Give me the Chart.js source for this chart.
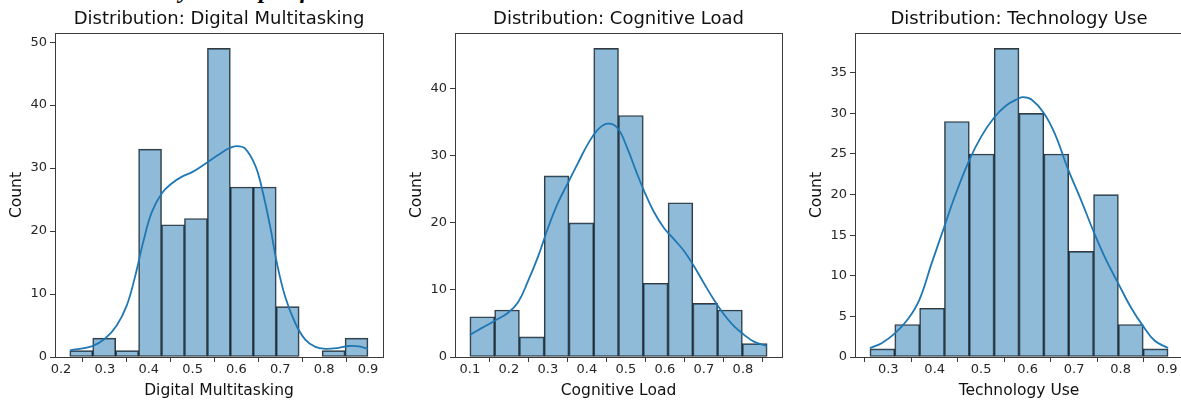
<!DOCTYPE html>
<html>
<head>
<meta charset="utf-8">
<title>Distributions</title>
<script src="https://cdn.jsdelivr.net/npm/chart.js@4.4.1/dist/chart.umd.min.js"></script>
<style>
    html, body { margin: 0; padding: 0; background: #fff; }
    body { position: relative; width: 1181px; height: 400px; overflow: hidden; }
    #heading {
        position: absolute; left: 0; top: -22px;
        font: bold italic 24px "Liberation Serif", serif;
        line-height: 24px; white-space: nowrap; color: #000;
    }
    canvas { position: absolute; top: 0; }
</style>
</head>
<body>
<div id="heading">4.1 Data Normality &amp; Shape of the Variables</div>
<canvas id="chart-dm" width="393" height="400" style="left:0px"></canvas>
<canvas id="chart-cl" width="392" height="400" style="left:400px"></canvas>
<canvas id="chart-tu" width="393" height="400" style="left:800px"></canvas>
<script>
/* Three histograms with KDE overlay */
(function () {
    'use strict';

    // Digital Multitasking
    var DM_RANGE   = [0.22, 0.90];
    var DM_COUNTS  = [1, 3, 1, 33, 21, 22, 49, 27, 27, 8, 0, 1, 3];
    var DM_KDE_X   = [0.2205, 0.27, 0.30, 0.327, 0.35, 0.369, 0.388, 0.407, 0.43, 0.453, 0.475, 0.50, 0.529, 0.559, 0.582,
                      0.60, 0.62, 0.643, 0.658, 0.677, 0.692, 0.711, 0.734, 0.757, 0.78, 0.803, 0.833, 0.856, 0.879, 0.90];
    var DM_KDE_Y   = [1.06, 1.7, 2.9, 5.0, 8.2, 12.8, 18.4, 23.0, 26.0, 27.6, 28.6, 29.4, 30.7, 32.1, 33.1,
                      33.5, 33.1, 30.4, 26.8, 20.7, 15.0, 9.6, 5.4, 2.75, 1.6, 1.3, 1.45, 1.75, 1.7, 1.3];
    var DM_X_TICKS = [0.2, 0.3, 0.4, 0.5, 0.6, 0.7, 0.8, 0.9];
    var DM_Y_TICKS = [0, 10, 20, 30, 40, 50];

    // Cognitive Load
    var CL_RANGE   = [0.10, 0.862];
    var CL_COUNTS  = [6, 7, 3, 27, 20, 46, 36, 11, 23, 8, 7, 2];
    var CL_KDE_X   = [0.10, 0.13, 0.164, 0.198, 0.224, 0.249, 0.275, 0.30, 0.326, 0.351, 0.377, 0.402, 0.428, 0.453, 0.479,
                      0.505, 0.526, 0.547, 0.573, 0.598, 0.624, 0.649, 0.675, 0.70, 0.726, 0.752, 0.777, 0.803, 0.828, 0.862];
    var CL_KDE_Y   = [3.3, 4.3, 5.4, 6.6, 8.2, 11.3, 15.0, 19.2, 23.0, 25.9, 28.9, 31.7, 33.9, 34.8, 34.1,
                      30.9, 27.7, 24.7, 21.5, 19.2, 17.5, 15.8, 13.5, 11.0, 8.5, 6.3, 4.6, 3.3, 2.3, 1.6];
    var CL_X_TICKS = [0.1, 0.2, 0.3, 0.4, 0.5, 0.6, 0.7, 0.8];
    var CL_Y_TICKS = [0, 10, 20, 30, 40];

    // Technology Use
    var TU_RANGE   = [0.2606, 0.9022];
    var TU_COUNTS  = [1, 4, 6, 29, 25, 38, 30, 25, 13, 20, 4, 1];
    var TU_KDE_X   = [0.2606, 0.2857, 0.3143, 0.343, 0.3667, 0.3932, 0.4204, 0.4434, 0.4749, 0.5007, 0.528, 0.5545, 0.5796,
                      0.5903, 0.6082, 0.634, 0.6584, 0.6871, 0.7158, 0.7401, 0.766, 0.7946, 0.8233, 0.8484, 0.8735, 0.9022];
    var TU_KDE_Y   = [1.1, 1.7, 2.9, 4.7, 7.0, 11.5, 16.0, 19.8, 24.3, 27.2, 29.5, 31.0, 31.8,
                      32.0, 31.7, 30.1, 27.5, 23.1, 19.2, 15.7, 12.3, 9.1, 6.0, 3.8, 2.0, 1.1];
    var TU_X_TICKS = [0.3, 0.4, 0.5, 0.6, 0.7, 0.8, 0.9];
    var TU_Y_TICKS = [0, 5, 10, 15, 20, 25, 30, 35];

    var FONT = "'DejaVu Sans', sans-serif";
    var TEXT = '#262626';
    var AXIS = '#3a3a3a';
    var FACE = 'rgba(31, 119, 180, 0.5)';
    var EDGE = 'rgba(0, 0, 0, 0.78)';
    var LINE = '#1f77b4';

    // matplotlib style box around the plot area
    var framePlugin = {
        id: 'frame',
        afterDatasetsDraw: function (chart) {
            var a = chart.chartArea, ctx = chart.ctx;
            ctx.save();
            ctx.strokeStyle = AXIS;
            ctx.lineWidth = 1;
            ctx.strokeRect(Math.round(a.left) + 0.5, Math.round(a.top) + 0.5,
                Math.round(a.right - a.left), Math.round(a.bottom - a.top));
            ctx.restore();
        }
    };

    function fixedTicks(list) {
        return function (scale) {
            scale.ticks = list.map(function (v) { return { value: v }; });
        };
    }

    function buildHist(id, cfg) {
        var el = document.getElementById(id);
        if (!el) return;

        var n = cfg.counts.length;
        var w = (cfg.range[1] - cfg.range[0]) / n;
        var bars = cfg.counts.map(function (c, i) {
            return { x: cfg.range[0] + (i + 0.5) * w, y: c };
        });
        var kde = cfg.kdeX.map(function (x, i) { return { x: x, y: cfg.kdeY[i] }; });

        return new Chart(el, {
            type: 'bar',
            data: {
                datasets: [{
                    type: 'line',
                    data: kde,
                    borderColor: LINE,
                    borderWidth: 1.8,
                    pointRadius: 0,
                    tension: 0.4,
                    fill: false,
                    order: 0
                }, {
                    type: 'bar',
                    data: bars,
                    backgroundColor: FACE,
                    borderColor: EDGE,
                    borderWidth: 1,
                    borderSkipped: false,
                    barPercentage: 1,
                    categoryPercentage: 1,
                    order: 1
                }]
            },
            options: {
                responsive: false,
                animation: false,
                events: [],
                layout: { padding: { left: 0, right: 10, top: 0, bottom: 0 } },
                plugins: {
                    legend: { display: false },
                    tooltip: { enabled: false },
                    title: {
                        display: true,
                        fullSize: false,
                        text: cfg.title,
                        color: '#111',
                        font: { family: FONT, size: 18, weight: 'normal' },
                        padding: { top: 9, bottom: 2.4 }
                    }
                },
                scales: {
                    x: {
                        type: 'linear',
                        min: cfg.xMin,
                        max: cfg.xMax,
                        offset: false,
                        afterBuildTicks: fixedTicks(cfg.xTicks),
                        afterFit: function (s) { s.height = 43; },
                        border: { display: false },
                        grid: { drawOnChartArea: false, drawTicks: true, tickLength: 5, color: AXIS, tickWidth: 1 },
                        ticks: {
                            color: TEXT,
                            font: { family: FONT, size: 13 },
                            padding: 0,
                            maxRotation: 0,
                            autoSkip: false,
                            callback: function (v) { return Number(v).toFixed(1); }
                        },
                        title: {
                            display: true,
                            text: cfg.xLabel,
                            color: '#111',
                            font: { family: FONT, size: 15.5 },
                            padding: 0
                        }
                    },
                    y: {
                        min: 0,
                        max: cfg.yMax,
                        afterBuildTicks: fixedTicks(cfg.yTicks),
                        afterFit: function (s) { s.width = 55; },
                        border: { display: false },
                        grid: { drawOnChartArea: false, drawTicks: true, tickLength: 5, color: AXIS, tickWidth: 1 },
                        ticks: {
                            color: TEXT,
                            font: { family: FONT, size: 13 },
                            padding: 3,
                            autoSkip: false,
                            callback: function (v) { return String(v); }
                        },
                        title: {
                            display: true,
                            text: 'Count',
                            color: '#111',
                            font: { family: FONT, size: 15.5 },
                            padding: { top: 8, bottom: 0 }
                        }
                    }
                }
            },
            plugins: [framePlugin]
        });
    }

    buildHist('chart-dm', {
        title: 'Distribution: Digital Multitasking', xLabel: 'Digital Multitasking',
        range: DM_RANGE, counts: DM_COUNTS, kdeX: DM_KDE_X, kdeY: DM_KDE_Y,
        xTicks: DM_X_TICKS, yTicks: DM_Y_TICKS, xMin: 0.1863, xMax: 0.9342, yMax: 51.45
    });
    buildHist('chart-cl', {
        title: 'Distribution: Cognitive Load', xLabel: 'Cognitive Load',
        range: CL_RANGE, counts: CL_COUNTS, kdeX: CL_KDE_X, kdeY: CL_KDE_Y,
        xTicks: CL_X_TICKS, yTicks: CL_Y_TICKS, xMin: 0.0619, xMax: 0.9001, yMax: 48.3
    });
    buildHist('chart-tu', {
        title: 'Distribution: Technology Use', xLabel: 'Technology Use',
        range: TU_RANGE, counts: TU_COUNTS, kdeX: TU_KDE_X, kdeY: TU_KDE_Y,
        xTicks: TU_X_TICKS, yTicks: TU_Y_TICKS, xMin: 0.2285, xMax: 0.9343, yMax: 39.9
    });
}());
</script>
</body>
</html>
